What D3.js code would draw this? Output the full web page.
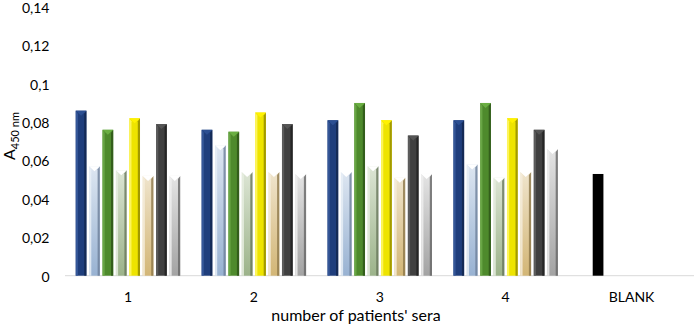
<!DOCTYPE html>
<html>
<head>
<meta charset="utf-8">
<script src="https://cdn.jsdelivr.net/npm/d3@7"></script>
<style>
  html, body { margin: 0; padding: 0; background: #fff; }
  svg { display: block; }
  text { font-family: Lato, "Open Sans", sans-serif; fill: #000; }
</style>
</head>
<body>
<script>
const categories = ["1", "2", "3", "4", "BLANK"];
const seriesNames = ["S1", "S2", "S3", "S4", "S5", "S6", "S7", "S8"];
const s1 = [0.086, 0.076, 0.081, 0.081, null];
const s2 = [0.057, 0.068, 0.054, 0.058, 0.053];
const s3 = [0.076, 0.075, 0.090, 0.090, null];
const s4 = [0.055, 0.054, 0.057, 0.051, null];
const s5 = [0.082, 0.085, 0.081, 0.082, null];
const s6 = [0.052, 0.054, 0.051, 0.054, null];
const s7 = [0.079, 0.079, 0.073, 0.076, null];
const s8 = [0.052, 0.053, 0.053, 0.066, null];
const yTicks = [0, 0.02, 0.04, 0.06, 0.08, 0.1, 0.12, 0.14];
const seriesValues = [s1, s2, s3, s4, s5, s6, s7, s8];

const styles = [
  {base: "#1F3E7C", light: "#3A5C9E", dark: "#12254C", tri: "#2C4F92", grad: null},
  {base: "#98B2D2", light: "#E8EEF6", dark: "#6C7E98", tri: "#FFFFFF", grad: "#DDE6F1"},
  {base: "#4E8A2C", light: "#6FAA4A", dark: "#2D5318", tri: "#6AAE42", grad: null},
  {base: "#9CB38A", light: "#E6EDE0", dark: "#66765A", tri: "#FFFFFF", grad: "#DCE5D4"},
  {base: "#EEE400", light: "#FFF86A", dark: "#8F8700", tri: "#FFF200", grad: null},
  {base: "#D3B676", light: "#F4ECDA", dark: "#8C7748", tri: "#FFFFFF", grad: "#EFE4CC"},
  {base: "#404040", light: "#606060", dark: "#1E1E1E", tri: "#555555", grad: null},
  {base: "#A3A3A3", light: "#EEEEEE", dark: "#666666", tri: "#FFFFFF", grad: "#E4E4E4"}
];
const blankColor = "#000000";

const W = 699, H = 325;
const svg = d3.select("body").append("svg").attr("width", W).attr("height", H);

const x = d3.scaleBand().domain(categories).range([65, 694.5]).paddingInner(0).paddingOuter(0);
const y = d3.scaleLinear().domain([0, 0.14]).range([275.7, 7]);

const band = x.bandwidth();
const w = band / 11.75;
const pitch = w * 1.25;
const groupW = 7 * pitch + w;
const x1 = d3.scaleLinear().domain([0, 7]).range([0, 7 * pitch]);

const defs = svg.append("defs");
styles.forEach((s, i) => {
  if (s.grad) {
    const g = defs.append("linearGradient").attr("id", "g" + i)
      .attr("x1", 0).attr("y1", 0).attr("x2", 0).attr("y2", 1);
    g.append("stop").attr("offset", "0%").attr("stop-color", s.grad);
    g.append("stop").attr("offset", "100%").attr("stop-color", s.base);
  }
});

svg.append("line").attr("x1", 65).attr("x2", 694).attr("y1", y(0)).attr("y2", y(0))
  .attr("stroke", "#D9D9D9").attr("stroke-width", 1);

svg.append("g").selectAll("text").data(yTicks).join("text")
  .attr("x", 49.5).attr("y", d => y(d) + 1).attr("dy", "0.35em")
  .attr("text-anchor", "end").attr("font-size", 14)
  .text(d => d === 0 ? "0" : String(d).replace(".", ","));

const barsG = svg.append("g");
seriesValues.forEach((vals, si) => {
  const st = styles[si];
  vals.forEach((v, ci) => {
    if (v === null || v === undefined) return;
    const cat = categories[ci];
    const bx = x(cat) + (band - groupW) / 2 + x1(si);
    const top = y(v), bottom = y(0);
    const g = barsG.append("g");
    if (cat === "BLANK") {
      g.append("rect").attr("x", bx).attr("y", top).attr("width", w).attr("height", bottom - top)
        .attr("fill", blankColor);
      return;
    }
    const b = 2.2;
    const th = 5;
    g.append("rect").attr("x", bx).attr("y", top).attr("width", w).attr("height", bottom - top)
      .attr("fill", st.grad ? `url(#g${si})` : st.base);
    g.append("polygon").attr("points", [[bx, top], [bx + b, top + th * 0.6], [bx + b, bottom], [bx, bottom]].join(" "))
      .attr("fill", st.light).attr("opacity", 0.85);
    g.append("polygon").attr("points", [[bx + w, top], [bx + w - b, top + th * 0.6], [bx + w - b, bottom], [bx + w, bottom]].join(" "))
      .attr("fill", st.dark).attr("opacity", 0.8);
    g.append("polygon").attr("points", [[bx, top], [bx + w, top], [bx + w / 2, top + th]].join(" "))
      .attr("fill", st.tri);
  });
});

svg.append("g").selectAll("text").data(categories).join("text")
  .attr("x", d => x(d) + band / 2).attr("y", 302)
  .attr("text-anchor", "middle").attr("font-size", 14)
  .text(d => d);

svg.append("text").attr("x", 356).attr("y", 321).attr("text-anchor", "middle")
  .attr("font-size", 16).text("number of patients' sera");

const yt = svg.append("text").attr("transform", "translate(15,136) rotate(-90)")
  .attr("text-anchor", "middle").attr("font-size", 16);
yt.append("tspan").text("A");
yt.append("tspan").attr("font-size", 11).attr("dy", 4).text("450 nm");
</script>
</body>
</html>
